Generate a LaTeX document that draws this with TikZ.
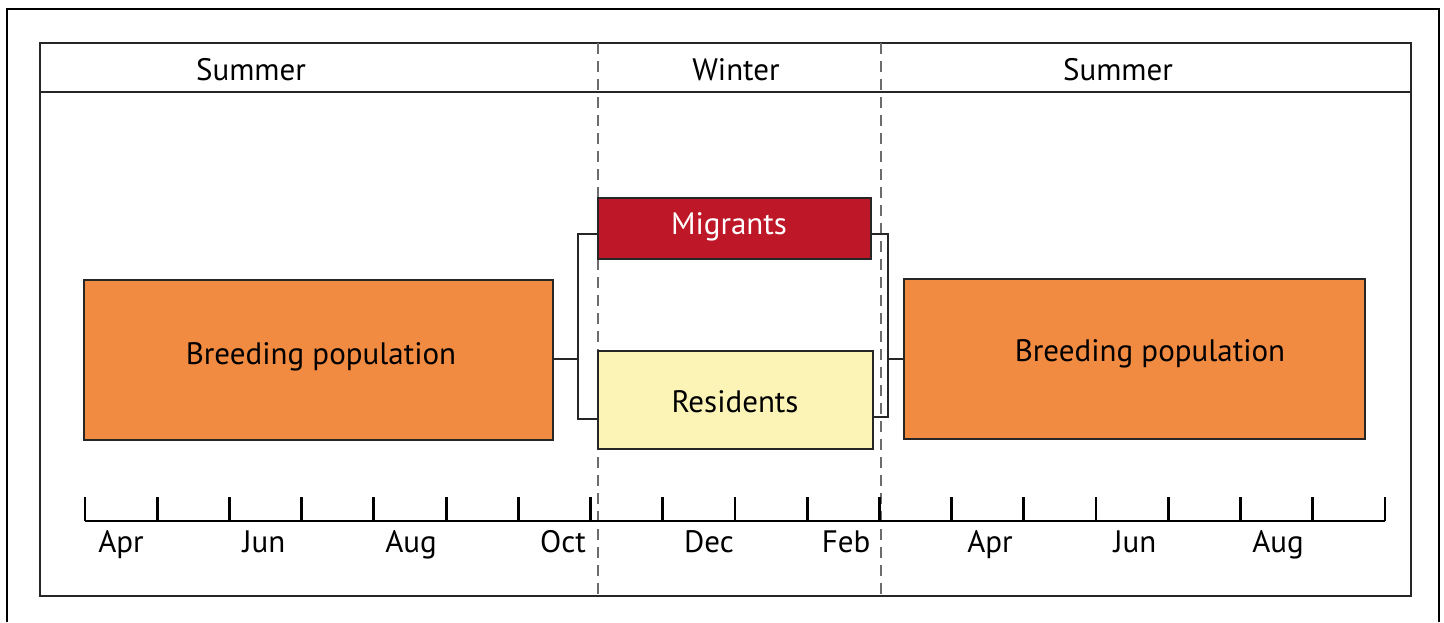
\documentclass[tikz,border=0pt]{standalone}
\usepackage{fontspec}
\setmainfont{PT Sans}
\definecolor{breedorange}{HTML}{F28B42}
\definecolor{migred}{HTML}{BE1828}
\definecolor{resyellow}{HTML}{FBF4B6}
\definecolor{edgegray}{HTML}{262626}
\begin{document}
\begin{tikzpicture}[x=1pt,y=-1pt,inner sep=0pt,outer sep=0pt,
popblock/.style={draw=edgegray,rectangle,line width=2.6pt},
poptext/.style={anchor=base,font=\fontsize{31}{36}\selectfont},
season/.style={anchor=base,font=\fontsize{31}{36}\selectfont},
month/.style={anchor=base,font=\fontsize{31}{36}\selectfont},
poplink/.style={line width=2.6pt,edgegray}]
\useasboundingbox (0,0) rectangle (1444,622);

% frames
\draw[line width=1.8pt] (7,622) -- (7,9) -- (1439,9) -- (1439,622);
\draw[line width=2.8pt,edgegray] (40,43) rectangle (1411,596);
\draw[line width=2.8pt,edgegray] (40,92) -- (1411,92);
\draw[gray!85!black,line width=2.6pt,dash pattern=on 11pt off 7pt] (598,43) -- (598,596);
\draw[gray!85!black,line width=2.6pt,dash pattern=on 11pt off 7pt] (881,43) -- (881,596);

% seasons
\draw (251,80) node[season] (s1) {Summer};
\draw (736,80) node[season] (w) {Winter};
\draw (1118,80) node[season] (s2) {Summer};

% populations
\draw (318.5,360) node[popblock,fill=breedorange,minimum width=469pt,minimum height=160pt] (B1) {};
\draw (321,364) node[poptext] (B1t) {Breeding population};
\draw (1134.5,359) node[popblock,fill=breedorange,minimum width=461pt,minimum height=160pt] (B2) {};
\draw (1150,361) node[poptext] (B2t) {Breeding population};
\draw (734.5,228.5) node[popblock,fill=migred,minimum width=273pt,minimum height=61pt] (M) {};
\draw (729,234) node[poptext,white] (Mt) {Migrants};
\draw (735.5,400) node[popblock,fill=resyellow,minimum width=275pt,minimum height=98pt] (R) {};
\draw (735,412) node[poptext] (Rt) {Residents};

% split and merge
\coordinate (sp) at (578,359);
\coordinate (mg) at (888,359);
\draw[poplink] (B1.east |- sp) -- (sp);
\draw[poplink] (M.west |- 0,234) -| (sp) |- (R.west |- 0,419);
\draw[poplink] (M.east |- 0,234) -| (mg) |- (R.east |- 0,417);
\draw[poplink] (mg) -- (B2.west |- mg);

% time axis
\draw[line width=2.8pt] (85,521) -- (1385,521);
\foreach \i in {0,...,18}
  \draw[line width=2.8pt] (85+72.22*\i,521) -- ++(0,-24);
\foreach \lab/\xm [count=\k from 0] in {Apr/121,Jun/264,Aug/411,Oct/563,Dec/709,Feb/846,Apr/990,Jun/1135,Aug/1278}
  \draw (\xm,552) node[month] (m\k) {\lab};

\end{tikzpicture}
\end{document}
